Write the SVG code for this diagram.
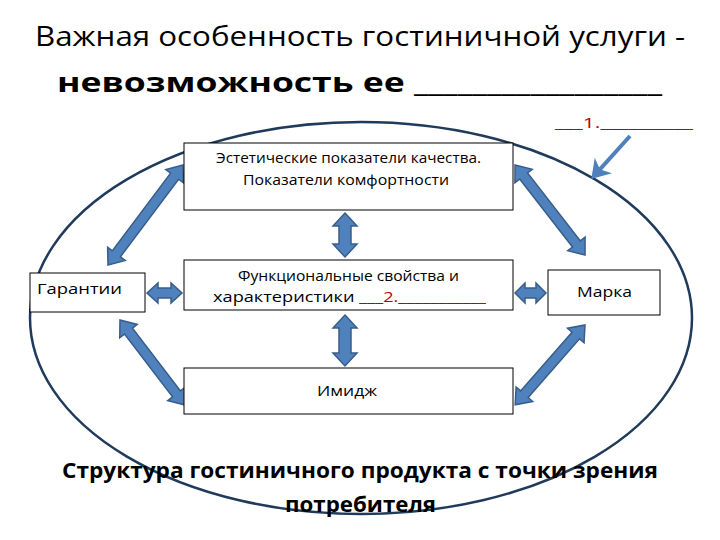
<svg xmlns="http://www.w3.org/2000/svg" width="720" height="540" viewBox="0 0 720 540">
<style>
.t{font-family:"Open Sans","Noto Sans","Liberation Sans",sans-serif;fill:#000}
.box{fill:#fff;stroke:#000;stroke-width:1}
.ar{fill:#4f81bd;stroke:#385d8a;stroke-width:1.5}
.red{fill:#c00000}
</style>
<rect width="720" height="540" fill="#fff"/>
<text class="t" x="35" y="46" font-size="27" textLength="650" lengthAdjust="spacingAndGlyphs">Важная особенность гостиничной услуги -</text>
<text class="t" x="57" y="92" font-size="26" font-weight="bold" textLength="605" lengthAdjust="spacingAndGlyphs">невозможность ее _________________</text>
<ellipse cx="361" cy="318" rx="331" ry="196" fill="none" stroke="#1f3a5a" stroke-width="2.5"/>
<text class="t red" x="555" y="128" font-size="14" textLength="138" lengthAdjust="spacingAndGlyphs">___1.__________</text>
<g id="connectors">
<path class="ar" transform="translate(108,265) rotate(-53.13)" d="M0,0 L14,-11 L14,-5 L111,-5 L111,-11 L125,0 L111,11 L111,5 L14,5 L14,11 Z"/>
<path class="ar" transform="translate(515,165) rotate(52.1)" d="M0,0 L14,-11 L14,-5 L100,-5 L100,-11 L114,0 L100,11 L100,5 L14,5 L14,11 Z"/>
<path class="ar" transform="translate(120,320) rotate(52.6)" d="M0,0 L14,-11 L14,-5 L93,-5 L93,-11 L107,0 L93,11 L93,5 L14,5 L14,11 Z"/>
<path class="ar" transform="translate(585,325) rotate(131.2)" d="M0,0 L14,-11 L14,-5 L92,-5 L92,-11 L106,0 L92,11 L92,5 L14,5 L14,11 Z"/>
<path class="ar" transform="translate(345,213) rotate(90)" d="M0,0 L13,-12 L13,-6 L31,-6 L31,-12 L44,0 L31,12 L31,6 L13,6 L13,12 Z"/>
<path class="ar" transform="translate(345,315) rotate(90)" d="M0,0 L13,-12 L13,-6 L38,-6 L38,-12 L51,0 L38,12 L38,6 L13,6 L13,12 Z"/>
<path class="ar" transform="translate(147,293)" d="M0,0 L11,-10 L11,-5 L24,-5 L24,-10 L35,0 L24,10 L24,5 L11,5 L11,10 Z"/>
<path class="ar" transform="translate(515,293)" d="M0,0 L10,-10 L10,-5 L21,-5 L21,-10 L31,0 L21,10 L21,5 L10,5 L10,10 Z"/>
<g transform="translate(630,136) rotate(132)">
<line x1="0" y1="0" x2="48" y2="0" stroke="#4f81bd" stroke-width="4"/>
<path d="M56,0 L42,-9 L46,0 L42,9 Z" fill="#4f81bd" stroke="#4f81bd" stroke-width="2"/>
</g>
</g>
<g id="n1"><rect class="box" x="184" y="143" width="329" height="67"/>
<text class="t" x="216" y="163" font-size="14" textLength="265" lengthAdjust="spacingAndGlyphs">Эстетические показатели качества.</text>
<text class="t" x="243" y="185" font-size="14" textLength="206" lengthAdjust="spacingAndGlyphs">Показатели комфортности</text></g>
<g id="n2"><rect class="box" x="184" y="260" width="329" height="50"/>
<text class="t" x="238" y="281" font-size="15" textLength="221" lengthAdjust="spacingAndGlyphs">Функциональные свойства и</text>
<text class="t" x="213" y="302" font-size="15" textLength="273" lengthAdjust="spacingAndGlyphs">характеристики <tspan class="red">___2.___________</tspan></text></g>
<g id="n3"><rect class="box" x="30" y="273" width="115" height="39"/>
<text class="t" x="37" y="294" font-size="14" textLength="85" lengthAdjust="spacingAndGlyphs">Гарантии</text></g>
<g id="n4"><rect class="box" x="548" y="270" width="112" height="45"/>
<text class="t" x="577" y="297" font-size="14" textLength="55" lengthAdjust="spacingAndGlyphs">Марка</text></g>
<g id="n5"><rect class="box" x="184" y="368" width="329" height="46"/>
<text class="t" x="317" y="396" font-size="14" textLength="60" lengthAdjust="spacingAndGlyphs">Имидж</text></g>
<text class="t" x="62" y="478" font-size="21" font-weight="bold" textLength="596" lengthAdjust="spacingAndGlyphs">Структура гостиничного продукта с точки зрения</text>
<text class="t" x="285" y="512" font-size="21" font-weight="bold" textLength="151" lengthAdjust="spacingAndGlyphs">потребителя</text>
</svg>
